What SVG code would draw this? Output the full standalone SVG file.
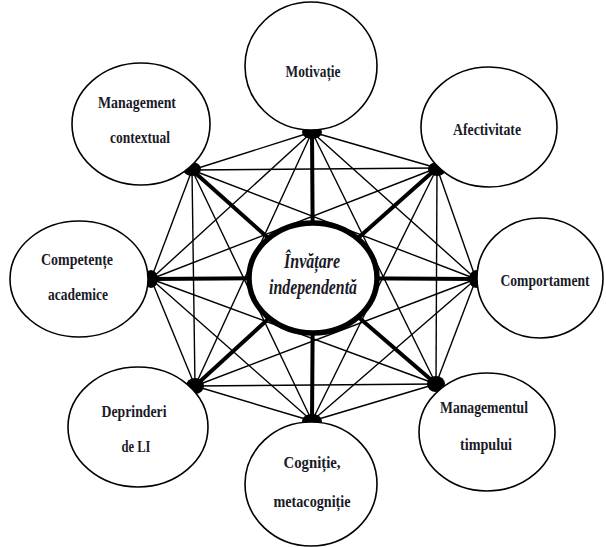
<svg xmlns="http://www.w3.org/2000/svg" width="606" height="547" viewBox="0 0 606 547">
<style>
.bg{fill:#fff}
.thin{stroke:#000;stroke-width:1.4;fill:none}
.thick{stroke:#000;stroke-width:4;fill:none}
.node{fill:#fff;stroke:#000;stroke-width:1.6}
.hub{fill:#fff;stroke:#000;stroke-width:5.5}
.dot{fill:#000}
.lbl{font-family:"Liberation Serif","Times New Roman",serif;font-weight:bold;font-size:17px;fill:#1a1a28;text-anchor:middle}
.hl{font-family:"Liberation Serif","Times New Roman",serif;font-weight:bold;font-style:italic;font-size:20px;fill:#1a1a28;text-anchor:middle}
</style>
<rect class="bg" x="0" y="0" width="606" height="547"/>
<g id="connectors">
<g class="thin">
<line x1="312" y1="132" x2="437" y2="168"/>
<line x1="312" y1="132" x2="476" y2="279"/>
<line x1="312" y1="132" x2="436" y2="384"/>
<line x1="312" y1="132" x2="312" y2="421"/>
<line x1="312" y1="132" x2="195" y2="386"/>
<line x1="312" y1="132" x2="151" y2="279"/>
<line x1="312" y1="132" x2="192" y2="170"/>
<line x1="437" y1="168" x2="476" y2="279"/>
<line x1="437" y1="168" x2="436" y2="384"/>
<line x1="437" y1="168" x2="312" y2="421"/>
<line x1="437" y1="168" x2="195" y2="386"/>
<line x1="437" y1="168" x2="151" y2="279"/>
<line x1="437" y1="168" x2="192" y2="170"/>
<line x1="476" y1="279" x2="436" y2="384"/>
<line x1="476" y1="279" x2="312" y2="421"/>
<line x1="476" y1="279" x2="195" y2="386"/>
<line x1="476" y1="279" x2="151" y2="279"/>
<line x1="476" y1="279" x2="192" y2="170"/>
<line x1="436" y1="384" x2="312" y2="421"/>
<line x1="436" y1="384" x2="195" y2="386"/>
<line x1="436" y1="384" x2="151" y2="279"/>
<line x1="436" y1="384" x2="192" y2="170"/>
<line x1="312" y1="421" x2="195" y2="386"/>
<line x1="312" y1="421" x2="151" y2="279"/>
<line x1="312" y1="421" x2="192" y2="170"/>
<line x1="195" y1="386" x2="151" y2="279"/>
<line x1="195" y1="386" x2="192" y2="170"/>
<line x1="151" y1="279" x2="192" y2="170"/>
</g>
<g class="thick">
<line x1="312" y1="132" x2="313" y2="278"/>
<line x1="437" y1="168" x2="313" y2="278"/>
<line x1="476" y1="279" x2="313" y2="278"/>
<line x1="436" y1="384" x2="313" y2="278"/>
<line x1="312" y1="421" x2="313" y2="278"/>
<line x1="195" y1="386" x2="313" y2="278"/>
<line x1="151" y1="279" x2="313" y2="278"/>
<line x1="192" y1="170" x2="313" y2="278"/>
</g>
</g>
<g id="invatare">
<ellipse class="hub" cx="313" cy="278" rx="64" ry="55"/>
<text class="hl" x="312" y="268" textLength="56" lengthAdjust="spacingAndGlyphs">Învățare</text>
<text class="hl" x="313" y="294" textLength="88" lengthAdjust="spacingAndGlyphs">independentă</text>
</g>
<g id="motivatie">
<ellipse class="dot" cx="312" cy="132" rx="10" ry="7"/>
<ellipse class="node" cx="311" cy="66" rx="66" ry="64"/>
<text class="lbl" x="313" y="77" textLength="55" lengthAdjust="spacingAndGlyphs">Motivație</text>
</g>
<g id="afectivitate">
<ellipse class="dot" cx="437" cy="169" rx="9" ry="7"/>
<ellipse class="node" cx="489" cy="127" rx="68" ry="60"/>
<text class="lbl" x="487" y="135" textLength="68" lengthAdjust="spacingAndGlyphs">Afectivitate</text>
</g>
<g id="comportament">
<ellipse class="dot" cx="476" cy="279" rx="7" ry="9"/>
<ellipse class="node" cx="540" cy="278" rx="63" ry="60"/>
<text class="lbl" x="0" y="0" transform="translate(545 286) scale(0.8 1)">Comportament</text>
</g>
<g id="managementul-timpului">
<ellipse class="dot" cx="436" cy="384" rx="9" ry="8"/>
<ellipse class="node" cx="487" cy="432" rx="68" ry="59"/>
<text class="lbl" x="484" y="413" textLength="88" lengthAdjust="spacingAndGlyphs">Managementul</text>
<text class="lbl" x="486" y="450" textLength="52" lengthAdjust="spacingAndGlyphs">timpului</text>
</g>
<g id="cognitie">
<ellipse class="dot" cx="312" cy="421" rx="10" ry="7"/>
<ellipse class="node" cx="311" cy="484" rx="66" ry="62"/>
<text class="lbl" x="312" y="468" textLength="57" lengthAdjust="spacingAndGlyphs">Cogniție,</text>
<text class="lbl" x="312" y="507" textLength="77" lengthAdjust="spacingAndGlyphs">metacogniție</text>
</g>
<g id="deprinderi">
<ellipse class="dot" cx="195" cy="386" rx="9" ry="8"/>
<ellipse class="node" cx="138" cy="427" rx="70" ry="60"/>
<text class="lbl" x="134" y="417" textLength="65" lengthAdjust="spacingAndGlyphs">Deprinderi</text>
<text class="lbl" x="136" y="452" textLength="29" lengthAdjust="spacingAndGlyphs">de LI</text>
</g>
<g id="competente">
<ellipse class="dot" cx="151" cy="279" rx="7" ry="9"/>
<ellipse class="node" cx="79" cy="279" rx="69" ry="58"/>
<text class="lbl" x="77" y="265" textLength="72" lengthAdjust="spacingAndGlyphs">Competențe</text>
<text class="lbl" x="78" y="300" textLength="60" lengthAdjust="spacingAndGlyphs">academice</text>
</g>
<g id="management-contextual">
<ellipse class="dot" cx="192" cy="169" rx="9" ry="7"/>
<ellipse class="node" cx="141" cy="124" rx="69" ry="61"/>
<text class="lbl" x="137" y="108" textLength="78" lengthAdjust="spacingAndGlyphs">Management</text>
<text class="lbl" x="140" y="143" textLength="60" lengthAdjust="spacingAndGlyphs">contextual</text>
</g>
</svg>
